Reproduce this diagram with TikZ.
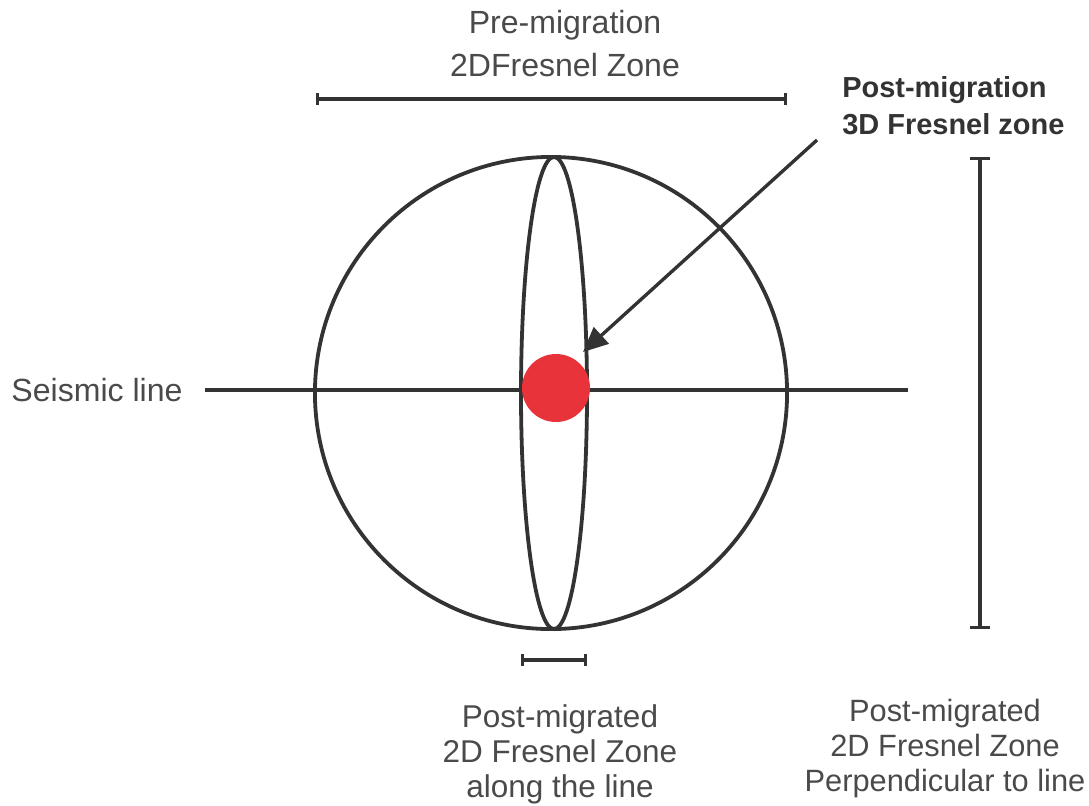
\documentclass[tikz,border=0pt]{standalone}
\usepackage{fontspec}
\setmainfont{Liberation Sans}
\usepackage{xcolor}
\usetikzlibrary{shapes.geometric, arrows.meta, positioning, calc}
\definecolor{linegray}{HTML}{333333}
\definecolor{textgray}{HTML}{4A4A4A}
\definecolor{dotred}{HTML}{E8333A}

\begin{document}
\begin{tikzpicture}[x=0.025cm, y=-0.025cm,
    label/.style={align=center, inner sep=0pt, text=textgray, font=\fontsize{22.8}{30.6}\selectfont},
    smalllabel/.style={align=center, inner sep=0pt, text=textgray, font=\fontsize{22.4}{24.9}\selectfont},
    boldlabel/.style={align=left, inner sep=0pt, text=linegray, font=\bfseries\fontsize{20.6}{26.3}\selectfont},
    zone/.style={circle, draw=linegray, line width=2.7pt, minimum size=11.8cm, inner sep=0pt},
    slimzone/.style={ellipse, draw=linegray, line width=2.7pt, minimum width=1.65cm, minimum height=11.8cm, inner sep=0pt},
    hbar/.style={{Bar[width=8.5pt]}-{Bar[width=8.5pt]}, line width=2.4pt, draw=linegray},
    vbar/.style={{Bar[width=14pt]}-{Bar[width=14pt]}, line width=2.4pt, draw=linegray},
    arrow/.style={-{Triangle[length=0.62cm, width=0.55cm]}, line width=2.4pt, draw=linegray, fill=linegray}
]
\useasboundingbox (0,0) rectangle (1089,805);

% seismic line and zones
\node[label] (seislabel) at (97,390) {Seismic line};
\coordinate (lineW) at (205,390);
\coordinate (lineE) at (908,390);
\draw[linegray, line width=2.7pt] (lineW) -- (lineE);

\node[zone] (prezone) at (551,393) {};
\node[slimzone] (postzone) at (554,393) {};
\node[circle, fill=dotred, minimum size=1.7cm, inner sep=0pt] (dot) at (556,388) {};

% pre-migration width
\node[label] (prelabel) at (565,44) {Pre-migration\\2DFresnel Zone};
\coordinate (preW) at (316,99);
\coordinate (preE) at (787,99);
\draw[hbar] (preW) -- (preE);

% 3D zone pointer
\node[boldlabel, anchor=west] (post3d) at (842,106) {Post-migration\\3D Fresnel zone};
\coordinate (tail) at (817,140);
\coordinate (tip) at (583,352);
\draw[arrow] (tail) -- (tip);

% post-migrated widths
\coordinate (alongW) at (521,660);
\coordinate (alongE) at (587,660);
\draw[hbar] (alongW) -- (alongE);
\node[smalllabel] (alonglabel) at (560,754) {Post-migrated\\2D Fresnel Zone\\along the line};

\coordinate (perpN) at (980,157);
\coordinate (perpS) at (980,629);
\draw[vbar] (perpN) -- (perpS);
\node[smalllabel, font=\fontsize{21.9}{24.9}\selectfont] (perplabel) at (945,749) {Post-migrated\\2D Fresnel Zone\\Perpendicular to line};
\end{tikzpicture}
\end{document}
